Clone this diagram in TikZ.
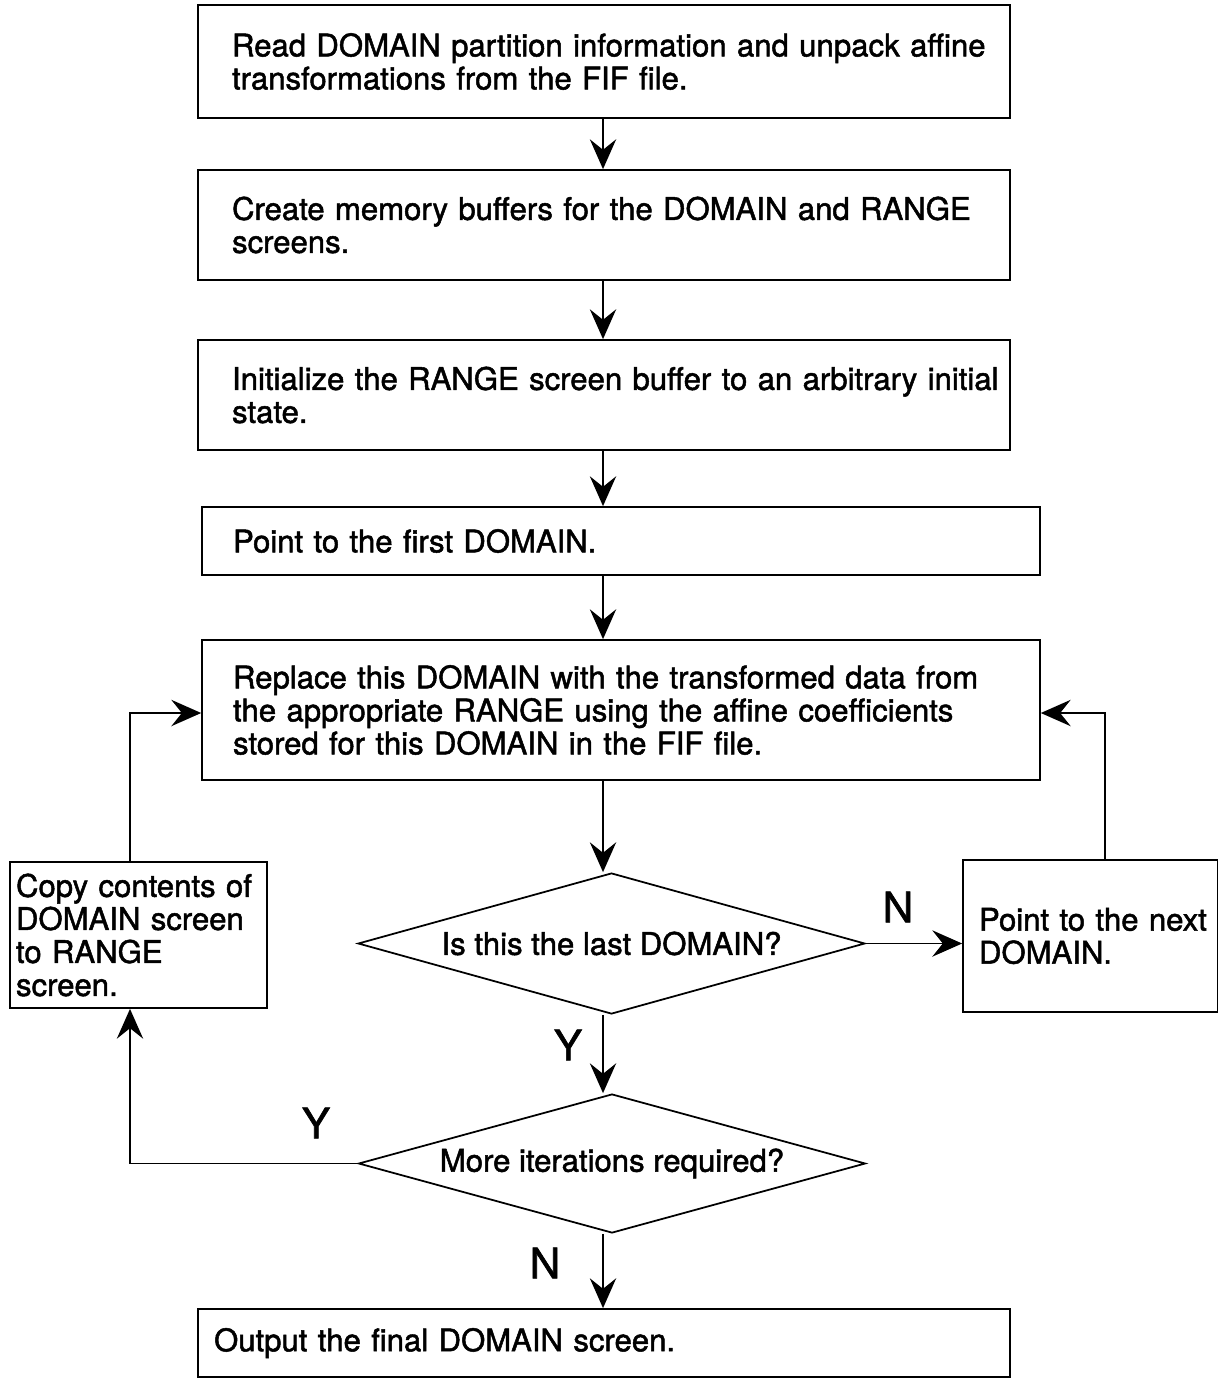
\documentclass[tikz,border=0pt]{standalone}
\usepackage{fontspec}
\setmainfont{TeX Gyre Heros}[FakeBold=1.6]
\usetikzlibrary{shapes.geometric, arrows.meta, calc}
\tikzset{
    every path/.style={line width=1pt},
    arr/.style={-{Stealth[length=17pt, width=15pt, inset=6pt]}}, % flow arrows
    PB/.style={draw, rectangle, align=left, inner ysep=0pt,
               font=\fontsize{17.7}{18.8}\selectfont}, % process box
    DC/.style={draw, diamond, aspect=3.6, inner sep=0pt,
               font=\fontsize{17.7}{18.8}\selectfont}, % decision
    YN/.style={font=\fontsize{24}{26}\selectfont, inner sep=0pt} % Y / N
}
\begin{document}
\begin{tikzpicture}[x=0.02cm, y=-0.02cm]
  \useasboundingbox (0,0) rectangle (1217,1378);
  \coordinate (ax) at (603,0); % main column
  \coordinate (lt) at (130,713);
  \coordinate (rt) at (1105,713);

  \node [PB, minimum width=16.24cm, minimum height=2.26cm, inner xsep=0.68cm, text width=14.88cm]
    (b1) at (604,61.5) {\mbox{Read DOMAIN partition information and unpack affine}\\ transformations from the FIF file.};
  \node [PB, minimum width=16.24cm, minimum height=2.2cm, inner xsep=0.68cm, text width=14.88cm]
    (b2) at (604,225) {\mbox{Create memory buffers for the DOMAIN and RANGE}\\ screens.};
  \node [PB, minimum width=16.24cm, minimum height=2.2cm, inner xsep=0.68cm, text width=14.88cm]
    (b3) at (604,395) {\mbox{Initialize the RANGE screen buffer to an arbitrary initial}\\ state.};
  \node [PB, minimum width=16.76cm, minimum height=1.36cm, inner xsep=0.62cm, text width=15.52cm]
    (b4) at (621,541) {Point to the first DOMAIN.};
  \node [PB, minimum width=16.76cm, minimum height=2.8cm, inner xsep=0.62cm, text width=15.52cm]
    (b5) at (621,710) {\mbox{Replace this DOMAIN with the transformed data from}\\ \mbox{the appropriate RANGE using the affine coefficients}\\ stored for this DOMAIN in the FIF file.};
  \node [PB, minimum width=5.14cm, minimum height=2.92cm, inner xsep=0.12cm, text width=4.9cm]
    (lb) at (138.5,935) {\mbox{Copy contents of}\\ \mbox{DOMAIN screen}\\ to RANGE\\ screen.};
  \node [PB, minimum width=5.1cm, minimum height=3.04cm, inner xsep=0.32cm, text width=4.46cm]
    (rb) at (1090.5,936) {\mbox{Point to the next}\\ DOMAIN.};
  \node [DC, minimum width=10.14cm, minimum height=2.82cm]
    (d1) at (611.5,943.5) {Is this the last DOMAIN?};
  \node [DC, minimum width=10.14cm, minimum height=2.78cm]
    (d2) at (612,1163.5) {More iterations required?};
  \node [PB, minimum width=16.24cm, minimum height=1.36cm, inner xsep=0.32cm, text width=15.6cm]
    (b6) at (604,1343) {Output the final DOMAIN screen.};

  \node [YN] (n1) at (898,907) {N};
  \node [YN] (y1) at (568,1045) {Y};
  \node [YN] (y2) at (316,1123) {Y};
  \node [YN] (n2) at (545,1263) {N};

  \draw [arr] (b1.south -| ax) -- (b2.north -| ax);
  \draw [arr] (b2.south -| ax) -- (b3.north -| ax);
  \draw [arr] (b3.south -| ax) -- (b4.north -| ax);
  \draw [arr] (b4.south -| ax) -- (b5.north -| ax);
  \draw [arr] (b5.south -| ax) -- (d1.north -| ax);
  \draw [arr] (d1.south -| ax) -- (d2.north -| ax);
  \draw [arr] (d2.south -| ax) -- (b6.north -| ax);
  \draw [arr] (d1.east) -- (d1.east -| rb.west);
  \draw [arr] (rb.north -| rt) |- (b5.east |- rt);
  \draw [arr] (d2.west) -| (lb.south -| lt);
  \draw [arr] (lb.north -| lt) |- (b5.west |- lt);
\end{tikzpicture}
\end{document}
